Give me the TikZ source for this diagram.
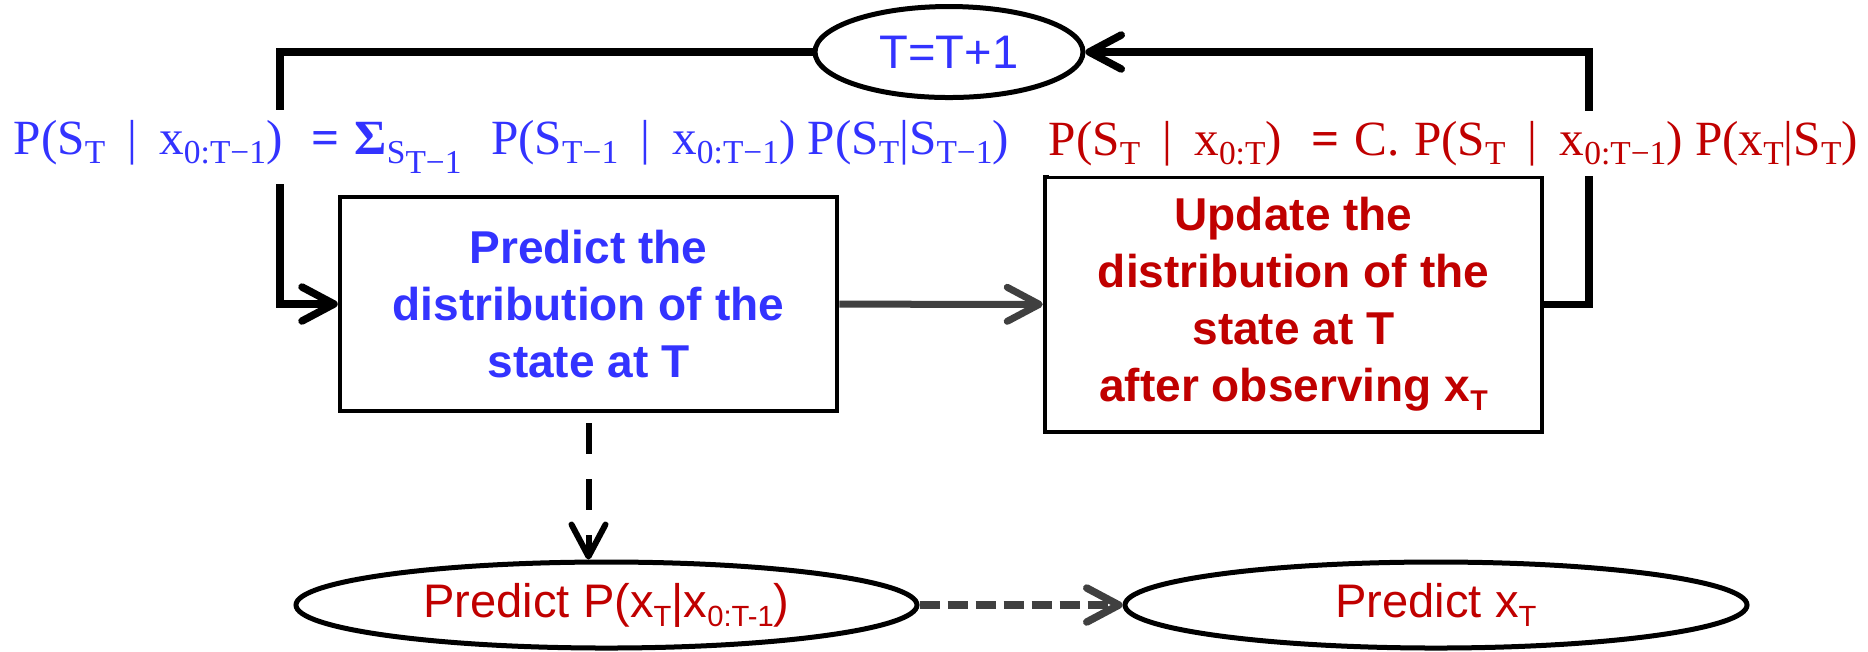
\documentclass[tikz,border=0pt]{standalone}
\usepackage{graphicx}
\usepackage{fontspec}
\setmainfont{Liberation Serif}
\newfontfamily\arialfont{Liberation Sans}
\usetikzlibrary{arrows.meta,shapes.geometric}

\definecolor{predblue}{RGB}{51,51,255}
\definecolor{updred}{RGB}{192,0,0}
\definecolor{darkgrey}{RGB}{64,64,64}
\newcommand{\lo}[1]{\raisebox{-0.2em}{\scalebox{0.62}{#1}}}
\newcommand{\slo}[1]{\raisebox{-0.2em}{\scalebox{0.68}{#1}}}
\newcommand{\fgap}{\hspace{0.45em}}

\begin{document}
\begin{tikzpicture}[
	barb/.style={-{Straight Barb[length=0.32cm,width=0.34cm,round]}},
	box/.style={draw, line width=0.045cm, align=center, inner sep=0pt, font=\arialfont\bfseries\fontsize{13.1}{16.2}\selectfont},
	oval/.style={draw, ellipse, line width=0.05cm, inner sep=0pt, font=\arialfont\fontsize{13.4}{16}\selectfont},
	formula/.style={fill=white, anchor=base west, inner xsep=0pt, inner ysep=0.1cm, font=\fontsize{14}{16}\selectfont},
	loopline/.style={line width=0.075cm},
	greyline/.style={draw=darkgrey, line width=0.07cm},
	dashline/.style={line width=0.06cm, dash pattern=on 0.31cm off 0.25cm},
	greydash/.style={draw=darkgrey, line width=0.075cm, dash pattern=on 0.2cm off 0.08cm}]
	\path[fill=white] (0,0) rectangle (18.68,-6.51);

	\node[box, minimum width=4.97cm, minimum height=2.14cm, text=predblue] (pred) at (5.885,-3.04) {Predict the\\distribution of the\\state at T};
	\node[box, minimum width=4.97cm, minimum height=2.55cm, text=updred] (upd) at (12.935,-3.045) {Update the\\distribution of the\\state at T\\after observing x\lo{T}};
	\node[oval, minimum width=2.68cm, minimum height=0.91cm, text=predblue] (tinc) at (9.49,-0.52) {T=T+1};
	\node[oval, minimum width=6.21cm, minimum height=0.86cm, text=updred] (pobs) at (6.065,-6.05) {Predict P(x\lo{T}|x\lo{0:T-1})};
	\node[oval, minimum width=6.22cm, minimum height=0.86cm, text=updred] (pxt) at (14.36,-6.05) {Predict x\lo{T}};
	\coordinate (lturn) at (2.80,-0.52);
	\coordinate (rturn) at (15.89,-0.52);

	\draw[loopline, barb] (tinc) -- (lturn) |- (pred);
	\draw[loopline, barb] (upd) -| (rturn) -- (tinc);
	\draw[greyline, barb] (pred) -- (upd);
	\draw[dashline, barb] ([yshift=-0.1cm]pred.south) -- (pred.south |- pobs.north);
	\draw[greydash, barb] (pobs) -- (pxt);

	\node[formula, text=predblue] (prior) at (0.13,-1.54) {P(S\slo{T}\fgap|\fgap x\slo{0:T−1})\hspace{0.6em}\textbf{=}\hspace{0.3em}\textbf{Σ}\slo{S\raisebox{-0.3em}{T−1}}\hspace{0.6em}P(S\slo{T−1}\fgap|\fgap x\slo{0:T−1})\hspace{0.25em}P(S\slo{T}|S\slo{T−1})};
	\node[formula, text=updred] (posterior) at (10.48,-1.55) {P(S\slo{T}\fgap|\fgap x\slo{0:T})\hspace{0.6em}\textbf{=}\hspace{0.3em}C.\hspace{0.3em}P(S\slo{T}\fgap|\fgap x\slo{0:T−1})\hspace{0.25em}P(x\slo{T}|S\slo{T})};
\end{tikzpicture}
\end{document}
